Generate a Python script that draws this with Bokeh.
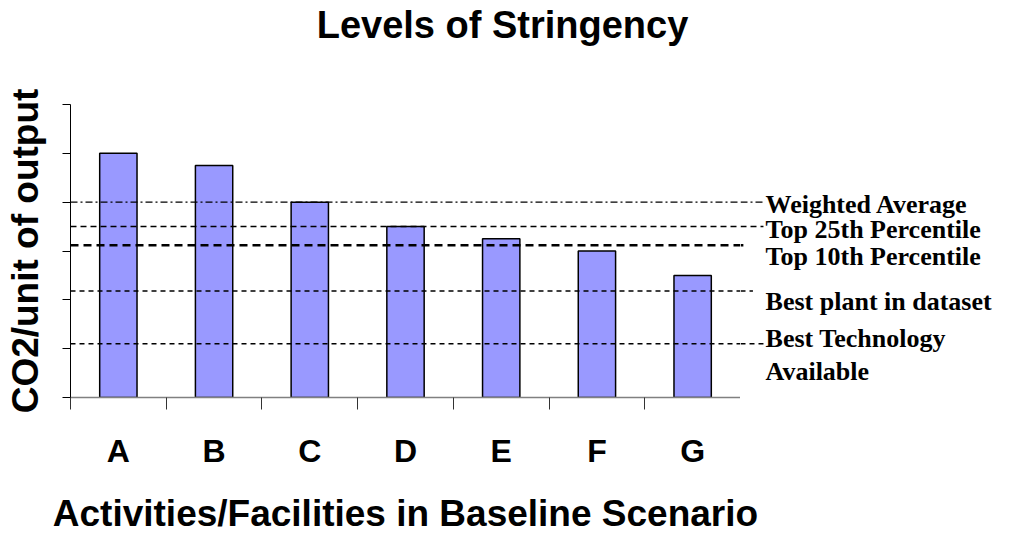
from bokeh.plotting import figure
from bokeh.models import Range1d, FixedTicker, ColumnDataSource
from bokeh.layouts import row, column
from bokeh.core.properties import value
from bokeh.embed import file_html
from bokeh.resources import INLINE

# ---- data ----
categories = ["A", "B", "C", "D", "E", "F", "G"]
values = [5.0, 4.75, 4.0, 3.5, 3.25, 3.0, 2.5]

benchmark_names = ["Weighted Average", "Top 25th Percentile", "Top 10th Percentile",
                   "Best plant in dataset", "Best Technology Available"]
benchmark_values = [4.0, 3.5, 3.12, 2.18, 1.1]

y_ticks = [0, 1, 2, 3, 4, 5, 6]

title_text = "Levels of Stringency"
x_title = "Activities/Facilities in Baseline Scenario"
y_title = "CO2/unit of output"

# ---- layout / style (not data) ----
line_dashes = ["7 3 2 3", "6 4", "8 5", "5 4", "5 4"]
line_widths = [1.2, 1.5, 2.5, 1.5, 1.5]
line_ends = [7.76, 7.74, 7.53, 7.63, 7.74]
label_texts = ["Weighted Average", "Top 25th Percentile", "Top 10th Percentile",
               "Best plant in dataset", "Best Technology", "Available"]
label_y = [3.952, 3.434, 2.888, 1.966, 1.214, 0.532]
label_x = 7.762

SANS = "Liberation Sans"
SERIF = "Liberation Serif"

cat_w = 95.7
TOTAL_H = 535
TITLE_H = 50
LEFT, TOP, BOTTOM = 70, 54, 76
FRAME_H = 293
MAIN_H = TOP + FRAME_H + BOTTOM
STRIP_H = TOTAL_H - TITLE_H - MAIN_H
n = len(categories)
main_w = LEFT + int(round(n * cat_w))
side_w = 265
full_w = main_w + side_w
xs = [i + 1 for i in range(n)]
x_end = 0.5 + n


def bare(fig):
    fig.outline_line_color = None
    fig.grid.visible = False
    fig.background_fill_color = "white"
    fig.border_fill_color = "white"


yr = Range1d(0, 6)

# ---- title strip ----
top_strip = figure(width=full_w, height=TITLE_H, output_backend="svg",
                   toolbar_location=None, x_range=Range1d(0, full_w),
                   y_range=Range1d(0, TITLE_H), min_border_left=0, min_border_right=0,
                   min_border_top=0, min_border_bottom=0,
                   x_axis_location=None, y_axis_location=None)
bare(top_strip)
top_strip.text(x=[502], y=[26], text=[title_text], text_font=value(SANS),
               text_font_style="bold", text_font_size="38px", text_align="center",
               text_baseline="alphabetic", text_color="black")

# ---- main chart ----
main = figure(width=main_w, height=MAIN_H, output_backend="svg", toolbar_location=None,
              x_range=Range1d(0.5, x_end), y_range=yr,
              min_border_left=LEFT, min_border_right=0, min_border_top=TOP,
              min_border_bottom=BOTTOM)
bare(main)

src = ColumnDataSource(dict(x=xs, top=values, cat=categories))
main.vbar(x="x", top="top", bottom=0, width=0.39, source=src,
          fill_color="#9999FF", line_color="black", line_width=1.5)

# ---- right-hand labels ----
side = figure(width=side_w, height=MAIN_H, output_backend="svg", toolbar_location=None,
              x_range=Range1d(x_end, x_end + side_w / cat_w), y_range=yr,
              min_border_left=0, min_border_right=0, min_border_top=TOP,
              min_border_bottom=BOTTOM, x_axis_location=None, y_axis_location=None)
bare(side)

for v, d, w, e in zip(benchmark_values, line_dashes, line_widths, line_ends):
    main.segment(x0=0.5, y0=v, x1=min(e, x_end), y1=v, line_color="black",
                 line_dash=d, line_width=w)
    if e > x_end:
        side.segment(x0=x_end, y0=v, x1=e, y1=v, line_color="black",
                     line_dash=d, line_width=w)

side.text(x=[label_x] * len(label_texts), y=label_y, text=label_texts,
          text_font=value(SERIF), text_font_style="bold", text_font_size="26px",
          text_baseline="alphabetic", text_align="left", text_color="black")

# x axis
xa = main.xaxis[0]
xa.ticker = FixedTicker(ticks=xs, minor_ticks=[i + 0.5 for i in range(n + 1)])
xa.major_label_overrides = {x: c for x, c in zip(xs, categories)}
xa.major_tick_out = 0
xa.major_tick_in = 0
xa.minor_tick_out = 12
xa.minor_tick_in = 0
xa.minor_tick_line_color = "#333333"
xa.axis_line_color = "#808080"
xa.axis_line_width = 1.5
xa.major_label_text_font = SANS
xa.major_label_text_font_style = "bold"
xa.major_label_text_font_size = "32px"
xa.major_label_text_color = "black"
xa.major_label_standoff = 23

# y axis
ya = main.yaxis[0]
ya.ticker = FixedTicker(ticks=y_ticks, minor_ticks=[])
ya.major_label_overrides = {t: "" for t in y_ticks}
ya.major_label_standoff = 0
ya.major_tick_out = 8
ya.major_tick_in = 0
ya.major_tick_line_color = "black"
ya.axis_line_color = "black"
ya.axis_label = y_title
ya.axis_label_text_font = SANS
ya.axis_label_text_font_style = "bold"
ya.axis_label_text_font_size = "37px"
ya.axis_label_text_color = "black"
ya.axis_label_standoff = 17

# ---- x-axis title strip, centred under the category axis ----
strip = figure(width=full_w, height=STRIP_H, output_backend="svg", toolbar_location=None,
               x_range=Range1d(0, full_w), y_range=Range1d(0, STRIP_H),
               min_border_left=0, min_border_right=0, min_border_top=0,
               min_border_bottom=0, x_axis_location=None, y_axis_location=None)
bare(strip)
strip.text(x=[LEFT + n * cat_w / 2], y=[22], text=[x_title],
           text_font=value(SANS), text_font_style="bold", text_font_size="37px",
           text_align="center", text_baseline="alphabetic", text_color="black")

layout = column(top_strip, row(main, side), strip)
open("out.html", "w").write(file_html(layout, INLINE))
